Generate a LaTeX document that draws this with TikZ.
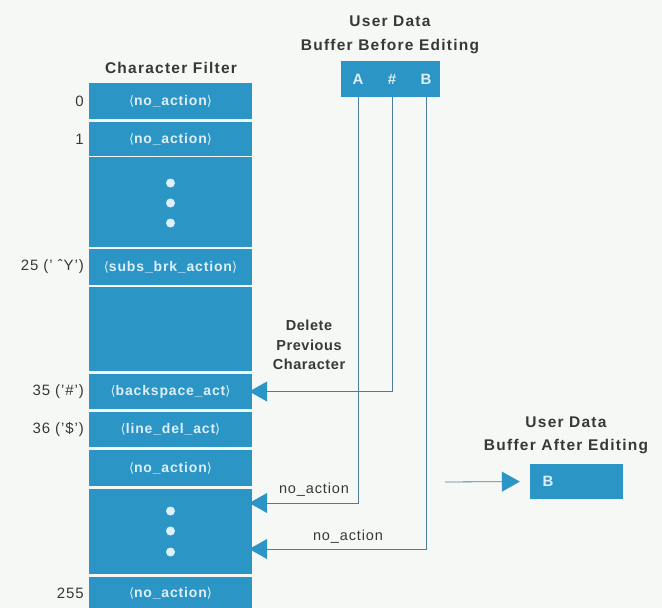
\documentclass[tikz,border=0pt]{standalone}
\usepackage{fontspec}
\setmainfont{Liberation Sans}[LetterSpace=6]
\newfontfamily\titlefont{Liberation Sans Bold}[LetterSpace=8]
\newfontfamily\dv{DejaVu Sans}
\usetikzlibrary{arrows.meta}
\definecolor{bg}{HTML}{F6F8F5}
\definecolor{cellblue}{HTML}{2B95C6}
\definecolor{celltext}{HTML}{DDEFF8}
\definecolor{linecol}{HTML}{4F7C96}
\definecolor{txt}{HTML}{383838}
\newcommand{\ab}[1]{{\dv\mdseries\fontsize{13}{13}\selectfont ⟨}#1{\dv\mdseries\fontsize{13}{13}\selectfont ⟩}}
\tikzset{
  cell/.style={fill=cellblue,inner sep=0pt,minimum width=163pt,text=celltext,
    font=\fontsize{14}{14}\selectfont\bfseries},
  lab/.style={anchor=east,text=txt,inner sep=0pt,font=\fontsize{15}{15}\selectfont},
  ttl/.style={text=txt,inner sep=0pt,align=center,font=\titlefont\fontsize{15.5}{23.5}\selectfont},
  small/.style={text=txt,inner sep=0pt,font=\fontsize{14.5}{14.5}\selectfont},
  buftext/.style={text=celltext,inner sep=0pt,font=\fontsize{15}{15}\selectfont\bfseries},
  conn/.style={draw=linecol,line width=0.8pt,
    -{Triangle[length=18pt,width=20pt,color=cellblue]}},
  dotc/.style={fill=celltext}
}
\begin{document}
\begin{tikzpicture}[x=1pt,y=-1pt]
\fill[bg] (0,0) rectangle (662,608);
\useasboundingbox (0,0) rectangle (662,608);

% Character filter column
\node[ttl] (cft) at (171,68) {Character Filter};
\node[cell,minimum height=36pt] (r0) at (170.5,101) {\ab{no\_action}};
\node[cell,minimum height=34pt] (r1) at (170.5,139) {\ab{no\_action}};
\node[cell,minimum height=90pt] (dots1) at (170.5,202) {};
\node[cell,minimum height=36pt] (r25) at (170.5,267) {\ab{subs\_brk\_action}};
\node[cell,minimum height=84pt] (blank) at (170.5,329) {};
\node[cell,minimum height=35pt] (r35) at (170.5,391.5) {\ab{backspace\_act}};
\node[cell,minimum height=35pt] (r36) at (170.5,429.5) {\ab{line\_del\_act}};
\node[cell,minimum height=36pt] (r37) at (170.5,468) {\ab{no\_action}};
\node[cell,minimum height=85pt] (dots2) at (170.5,531.5) {};
\node[cell,minimum height=32pt] (r255) at (170.5,593) {\ab{no\_action}};

\foreach \y in {183,203,223} \fill[dotc] (170.5,\y) circle (4.5pt);
\foreach \y in {511,531,552} \fill[dotc] (170.5,\y) circle (4.5pt);

% left labels
\node[lab] (l0) at (84,101) {0};
\node[lab] (l1) at (84,139) {1};
\node[lab] (l25) at (84,267) {25 (' ˆY')};
\node[lab] (l35) at (84,391.5) {35 ('\#')};
\node[lab] (l36) at (84,429.5) {36 ('\$')};
\node[lab] (l255) at (84,593) {255};

% before buffer
\node[ttl] (bt) at (390,35) {User Data\\Buffer Before Editing};
\node[fill=cellblue,minimum width=99pt,minimum height=36pt,inner sep=0pt] (buf) at (390,79) {};
\node[buftext] (lA) at (358,79) {A};
\node[buftext] (lH) at (392,79) {\#};
\node[buftext] (lB) at (426,79) {B};

% connectors
\draw[conn,shorten >=-3pt] (lH |- buf.south) |- (r35.east);
\draw[conn,shorten >=-3pt] (lA |- buf.south) |- ([yshift=28.5pt]dots2.east);
\draw[conn,shorten >=-3pt] (lB |- buf.south) |- ([yshift=-17.5pt]dots2.east);

\node[ttl,font=\titlefont\fontsize{14.5}{19.5}\selectfont\addfontfeature{LetterSpace=4}] (del) at (309,345) {Delete\\Previous\\Character};
\node[small] (na1) at (314,490) {no\_action};
\node[small] (na2) at (348,537) {no\_action};

% after buffer
\node[ttl] (at) at (566,435.5) {User Data\\Buffer After Editing};
\node[fill=cellblue,minimum width=93pt,minimum height=35pt,inner sep=0pt] (after) at (576.5,481.5) {};
\node[buftext] (aB) at (548,481.5) {B};
\coordinate (as) at (445,482);
\draw[conn,shorten >=10pt] (as) -- (after.west);
\end{tikzpicture}
\end{document}
